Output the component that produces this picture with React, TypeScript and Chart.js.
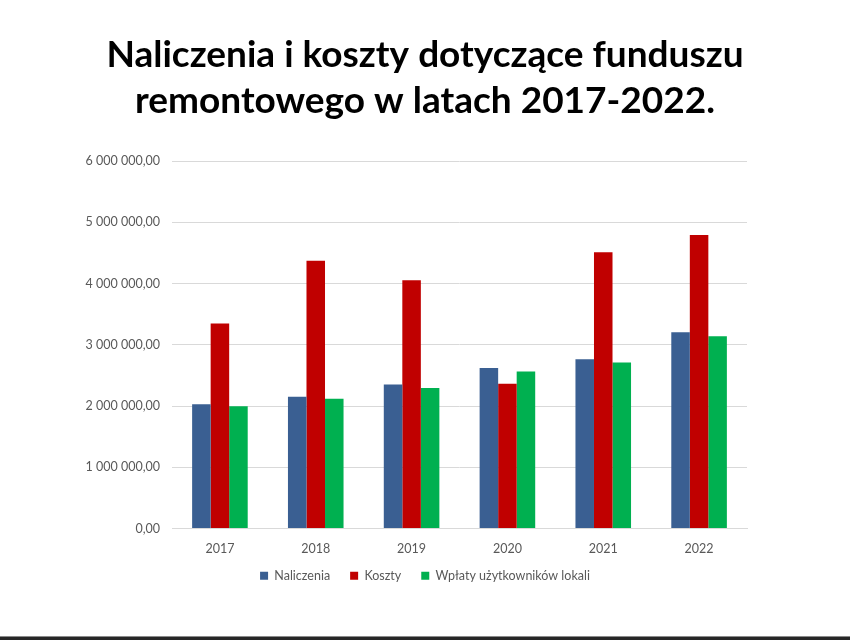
import React, { useEffect, useRef } from "react";
import { Chart, registerables } from "chart.js";

Chart.register(...registerables);

const titleLines = ["Naliczenia i koszty dotyczące funduszu", "remontowego w latach 2017-2022."];
const years = ["2017", "2018", "2019", "2020", "2021", "2022"];
const naliczenia = [2030000, 2150000, 2350000, 2620000, 2765000, 3205000];
const koszty = [3345000, 4370000, 4055000, 2365000, 4510000, 4790000];
const wplaty = [1995000, 2120000, 2295000, 2565000, 2710000, 3140000];
const seriesNames = ["Naliczenia", "Koszty", "Wpłaty użytkowników lokali"];
const seriesColors = ["#3A5F92", "#C00000", "#00B050"];
const yMin = 0;
const yMax = 6000000;
const yStep = 1000000;

function formatPl(v: number): string {
  const s = Math.round(v).toString().replace(/\B(?=(\d{3})+(?!\d))/g, " ");
  return s + ",00";
}

const legendShift = {
  id: "legendShift",
  afterLayout(chart: any) {
    const lg = chart.legend;
    if (!lg) return;
    lg.top -= 9;
    lg.bottom -= 9;
    if (lg.legendHitBoxes) {
      lg.legendHitBoxes.forEach((h: any) => {
        h.top -= 9;
      });
    }
  },
};

export default function App() {
  const ref = useRef<HTMLCanvasElement | null>(null);
  useEffect(() => {
    if (!ref.current) return;
    const font = "Lato, 'Open Sans', sans-serif";
    const chart = new Chart(ref.current, {
      type: "bar",
      data: {
        labels: years,
        datasets: [naliczenia, koszty, wplaty].map((d, i) => ({
          label: seriesNames[i],
          data: d,
          backgroundColor: seriesColors[i],
          borderWidth: 0,
          categoryPercentage: 0.58,
          barPercentage: 1.0,
          yAxisID: "y",
        })),
      },
      plugins: [legendShift],
      options: {
        animation: false,
        responsive: false,
        maintainAspectRatio: false,
        layout: { padding: { left: 0, right: 0, top: 0, bottom: 35 } },
        plugins: {
          title: {
            display: true,
            text: titleLines,
            color: "#000000",
            font: { family: font, size: 37, weight: "bold", lineHeight: 1.25 },
            padding: { top: 32, bottom: 36.5 },
          },
          legend: {
            display: true,
            position: "bottom",
            labels: {
              boxWidth: 8,
              boxHeight: 8,
              padding: 20,
              color: "#595959",
              font: { family: font, size: 12.5 },
            },
          },
          tooltip: { enabled: false },
        },
        scales: {
          x: {
            grid: { display: false },
            border: { display: true, color: "#D9D9D9" },
            ticks: { color: "#595959", font: { family: font, size: 12.5 }, padding: 5 },
            afterFit: (scale: any) => {
              scale.height = 30;
            },
          },
          y: {
            min: yMin,
            max: yMax,
            afterFit: (scale: any) => {
              scale.width = 172;
            },
            grid: { color: "#D9D9D9", drawTicks: false },
            border: { display: false },
            ticks: {
              stepSize: yStep,
              color: "#595959",
              font: { family: font, size: 12.5 },
              padding: 12,
              callback: (v: any) => formatPl(Number(v)),
            },
          },
          yRight: {
            position: "right",
            display: true,
            grid: { display: false },
            border: { display: false },
            ticks: { display: false },
            afterFit: (scale: any) => {
              scale.width = 103;
            },
          },
        },
      },
    });
    return () => chart.destroy();
  }, []);
  return (
    <div style={{ position: "fixed", left: 0, top: 0, width: 850, height: 640, background: "#FFFFFF", overflow: "hidden" }}>
      <canvas ref={ref} width={850} height={636} style={{ width: 850, height: 636, display: "block" }} />
      <div style={{ position: "absolute", left: 0, bottom: 0, width: 850, height: 3, background: "#262626", borderTop: "1px solid #8a8a8a" }} />
    </div>
  );
}
